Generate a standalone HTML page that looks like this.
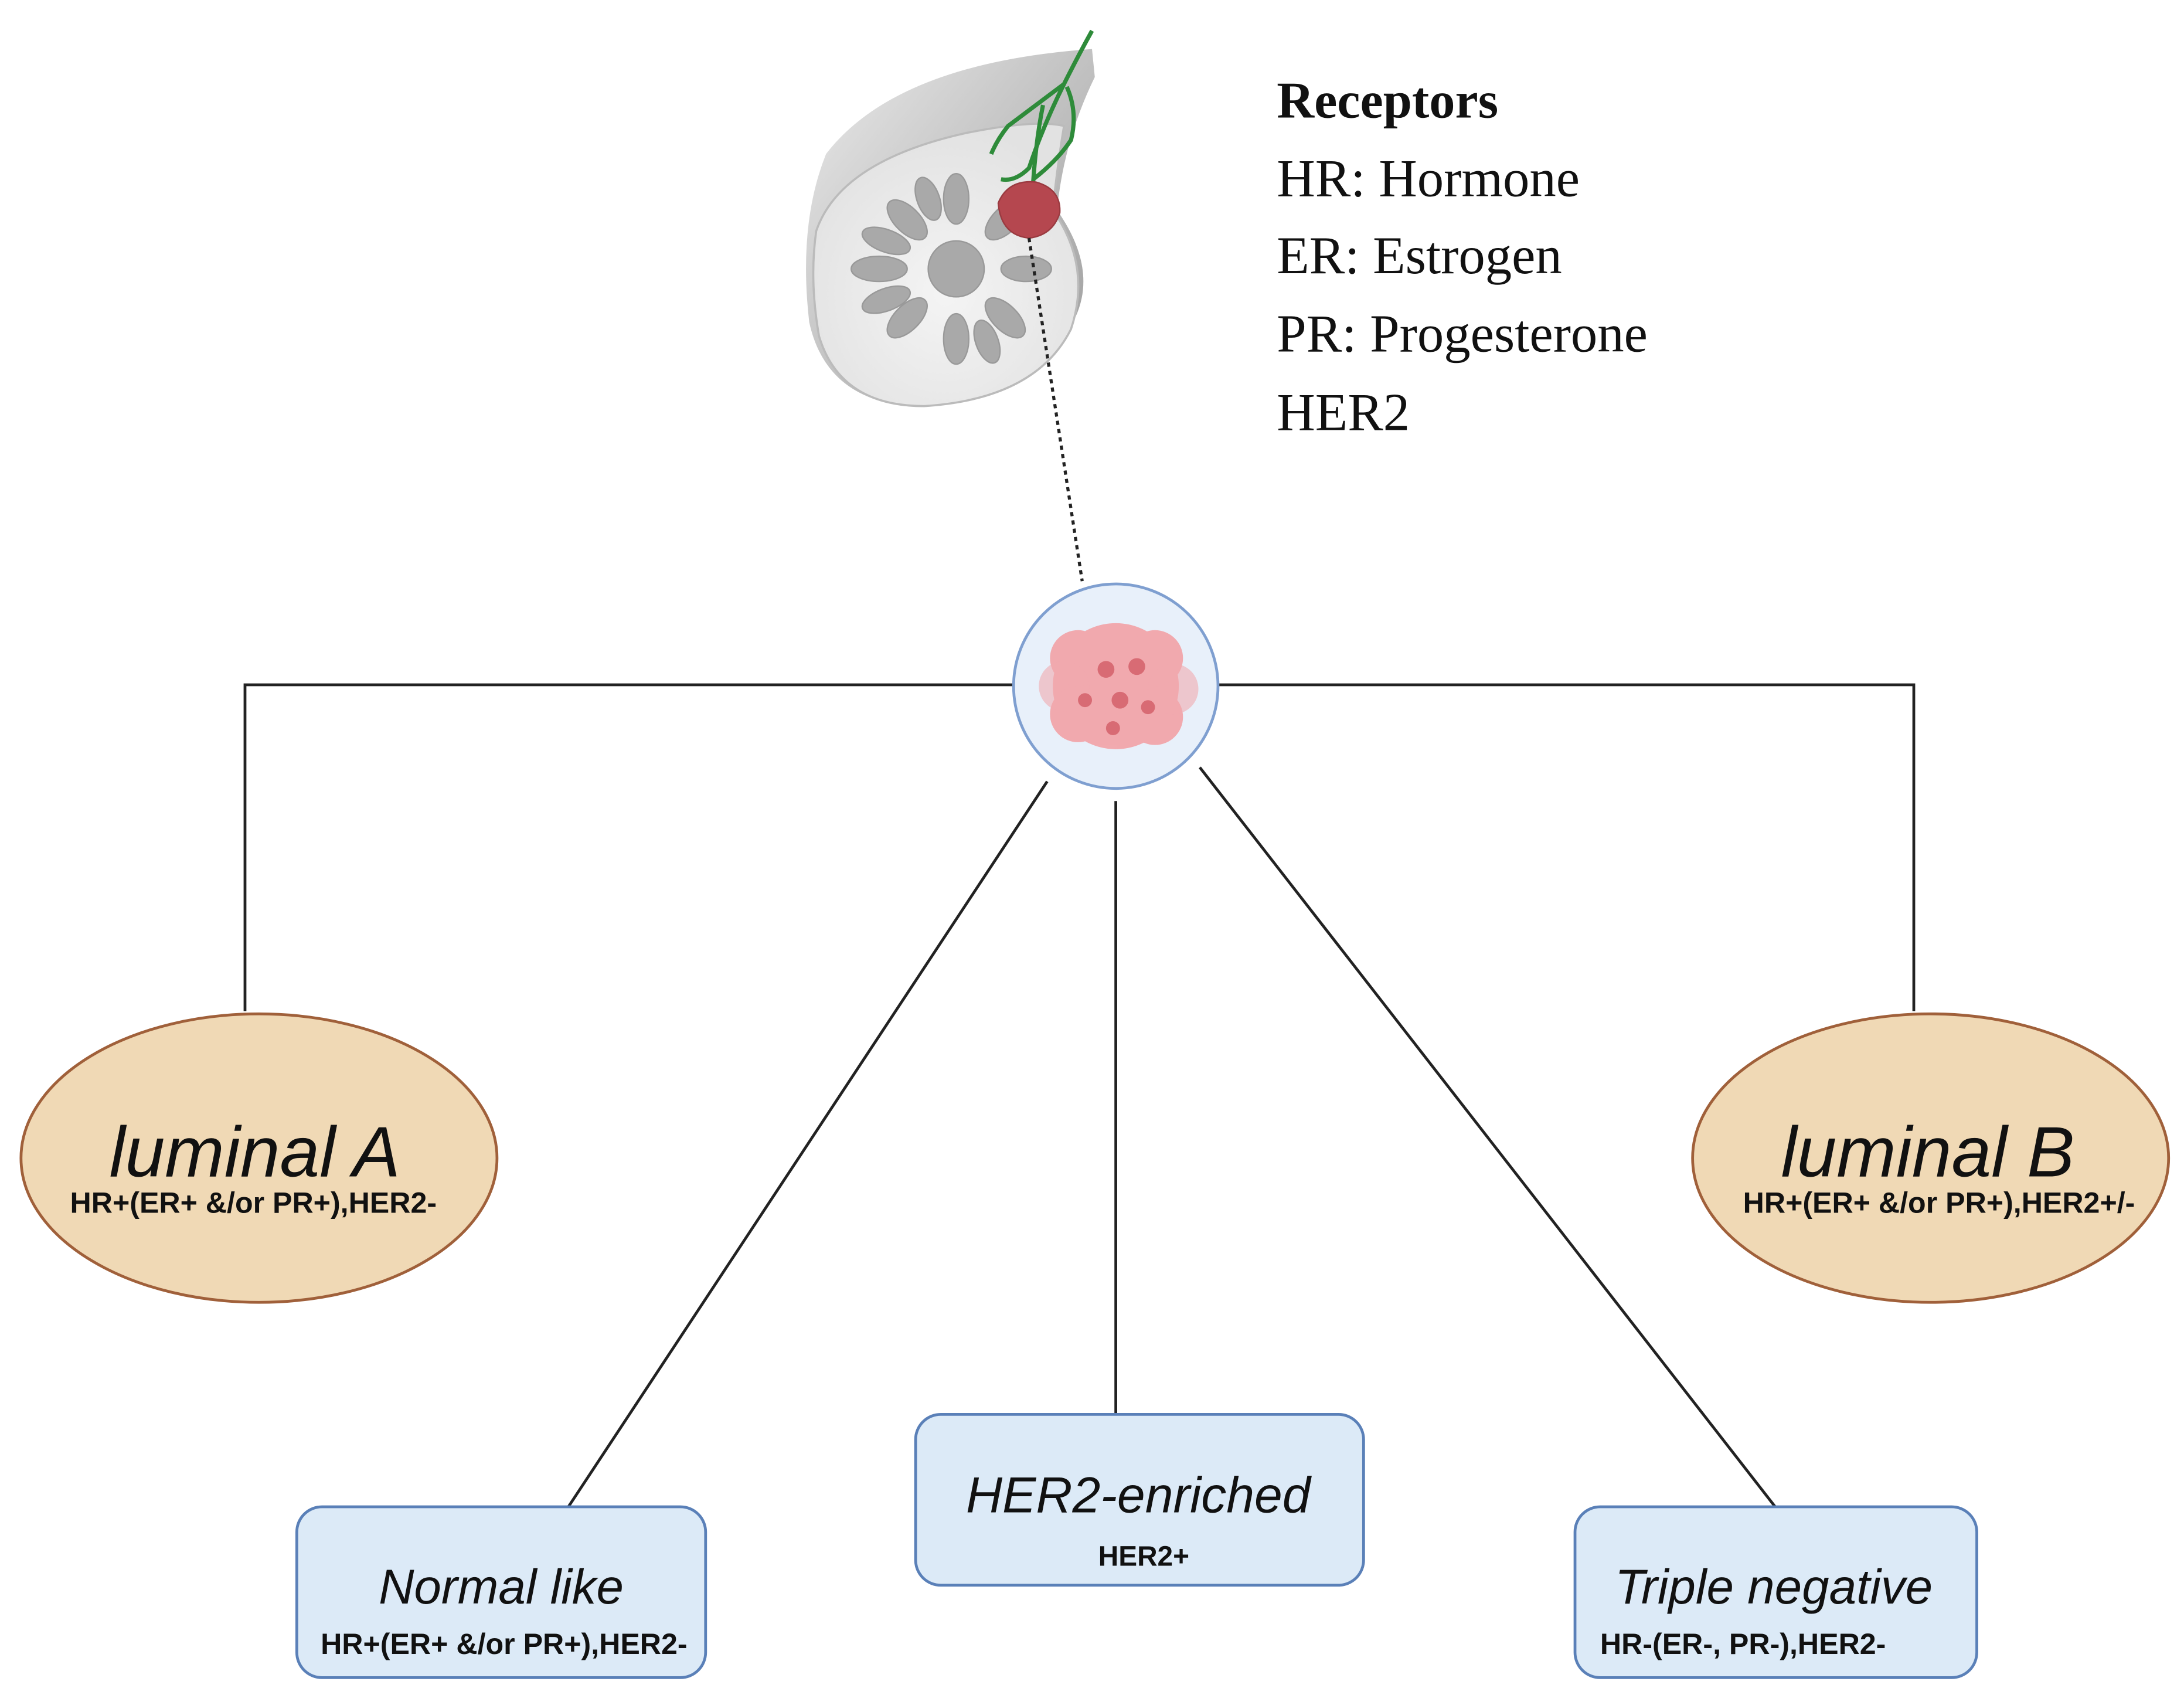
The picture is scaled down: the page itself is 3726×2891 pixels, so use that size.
<!DOCTYPE html>
<html><head><meta charset="utf-8"><style>html,body{margin:0;padding:0;background:#fff}svg{display:block}</style></head>
<body>
<svg width="3726" height="2891" viewBox="0 0 1560 1210.4" xmlns="http://www.w3.org/2000/svg">
<defs>
<radialGradient id="sk" cx="0.5" cy="0.6" r="0.6"><stop offset="0" stop-color="#f4f4f4"/><stop offset="1" stop-color="#e2e2e2"/></radialGradient>
<linearGradient id="sh" x1="0" y1="0" x2="1" y2="1"><stop offset="0" stop-color="#ddd"/><stop offset="1" stop-color="#555"/></linearGradient>
</defs>
<rect width="1560" height="1210.4" fill="#fff"/>
<path d="M590 110 Q640 45 780 35 L782 55 Q760 100 755 150 Q790 200 760 240 Q720 290 650 290 Q590 285 578 230 Q570 160 590 110Z" fill="url(#sh)" opacity="0.6"/>
<path d="M583 165 Q600 115 690 95 Q740 85 760 90 Q755 120 752 150 Q780 190 765 235 Q740 285 660 290 Q600 290 585 240 Q578 200 583 165Z" fill="url(#sk)" stroke="#bbb" stroke-width="1.5"/>
<g fill="#a9a9a9" stroke="#999" stroke-width="1">
<circle cx="683" cy="192" r="20"/>
<g transform="translate(683 192)">
<ellipse cx="0" cy="-50" rx="9" ry="18"/><ellipse cx="35" cy="-35" rx="9" ry="18" transform="rotate(45 35 -35)"/>
<ellipse cx="50" cy="0" rx="18" ry="9"/><ellipse cx="35" cy="35" rx="9" ry="18" transform="rotate(-45 35 35)"/>
<ellipse cx="0" cy="50" rx="9" ry="18"/><ellipse cx="-35" cy="35" rx="9" ry="18" transform="rotate(45 -35 35)"/>
<ellipse cx="-55" cy="0" rx="20" ry="9"/><ellipse cx="-35" cy="-35" rx="9" ry="18" transform="rotate(-45 -35 -35)"/>
<ellipse cx="-20" cy="-50" rx="8" ry="16" transform="rotate(-20 -20 -50)"/><ellipse cx="-50" cy="-20" rx="18" ry="8" transform="rotate(20 -50 -20)"/>
<ellipse cx="-50" cy="22" rx="18" ry="8" transform="rotate(-20 -50 22)"/><ellipse cx="22" cy="52" rx="8" ry="16" transform="rotate(-20 22 52)"/>
</g></g>
<g stroke="#2e8b3a" stroke-width="3" fill="none">
<path d="M780 22 Q770 40 760 60 Q740 75 720 90 Q712 100 708 110"/>
<path d="M760 60 Q745 90 735 120 Q725 130 715 128"/>
<path d="M762 62 Q770 80 765 100 Q755 115 738 128"/>
<path d="M745 75 Q740 100 738 130"/>
</g>
<path d="M713 145 Q720 128 740 130 Q758 135 757 152 Q752 168 735 170 Q715 168 713 145Z" fill="#b5474f" stroke="#9a3a40"/>
<line x1="735" y1="170" x2="773" y2="415" stroke="#222" stroke-width="2.2" stroke-dasharray="3 3"/>
<g stroke="#222" stroke-width="2" fill="none">
<polyline points="175,722 175,489 724,489"/>
<polyline points="870,489 1367,489 1367,722"/>
<line x1="748" y1="558" x2="406" y2="1076"/>
<line x1="797" y1="572" x2="797" y2="1010"/>
<line x1="857" y1="548" x2="1268" y2="1076"/>
</g>
<circle cx="797" cy="490" r="73" fill="#e8f0fa" stroke="#7f9fd0" stroke-width="2"/>
<g fill="#f2a2a6" opacity="0.9">
<circle cx="797" cy="490" r="45"/><circle cx="770" cy="470" r="20"/><circle cx="825" cy="470" r="20"/><circle cx="770" cy="510" r="20"/><circle cx="825" cy="512" r="20"/>
<circle cx="760" cy="490" r="18" opacity="0.6"/><circle cx="838" cy="492" r="18" opacity="0.6"/>
</g>
<g fill="#d86b74"><circle cx="790" cy="478" r="6"/><circle cx="812" cy="476" r="6"/><circle cx="800" cy="500" r="6"/><circle cx="775" cy="500" r="5"/><circle cx="820" cy="505" r="5"/><circle cx="795" cy="520" r="5"/></g>
<ellipse cx="185" cy="827" rx="170" ry="103" fill="#f0d9b5" stroke="#a0603a" stroke-width="2"/>
<ellipse cx="1379" cy="827" rx="170" ry="103" fill="#f0d9b5" stroke="#a0603a" stroke-width="2"/>
<g font-family="Liberation Sans, sans-serif" text-anchor="middle" fill="#111">
<text x="182" y="840" font-size="51" font-style="italic">luminal A</text>
<text x="181" y="866" font-size="21" font-weight="bold">HR+(ER+ &amp;/or PR+),HER2-</text>
<text x="1377" y="840" font-size="51" font-style="italic">luminal B</text>
<text x="1385" y="866" font-size="21" font-weight="bold">HR+(ER+ &amp;/or PR+),HER2+/-</text>
</g>
<g fill="#dceaf7" stroke="#5a80b8" stroke-width="2">
<rect x="212" y="1076" width="292" height="122" rx="18"/>
<rect x="654" y="1010" width="320" height="122" rx="18"/>
<rect x="1125" y="1076" width="287" height="122" rx="18"/>
</g>
<g font-family="Liberation Sans, sans-serif" fill="#111" text-anchor="middle">
<text x="358" y="1145" font-size="35" font-style="italic">Normal like</text>
<text x="360" y="1181" font-size="21" font-weight="bold">HR+(ER+ &amp;/or PR+),HER2-</text>
<text x="813" y="1080" font-size="36" font-style="italic">HER2-enriched</text>
<text x="817" y="1118" font-size="20" font-weight="bold">HER2+</text>
<text x="1267" y="1145" font-size="35" font-style="italic">Triple negative</text>
<text x="1245" y="1181" font-size="21" font-weight="bold">HR-(ER-, PR-),HER2-</text>
</g>
<g font-family="Liberation Serif, serif" fill="#111">
<text x="912" y="84" font-size="37" font-weight="bold">Receptors</text>
<text x="912" y="140" font-size="38">HR: Hormone</text>
<text x="912" y="195" font-size="38">ER: Estrogen</text>
<text x="912" y="251" font-size="38">PR: Progesterone</text>
<text x="912" y="307" font-size="38">HER2</text>
</g>
</svg>
</body></html>
